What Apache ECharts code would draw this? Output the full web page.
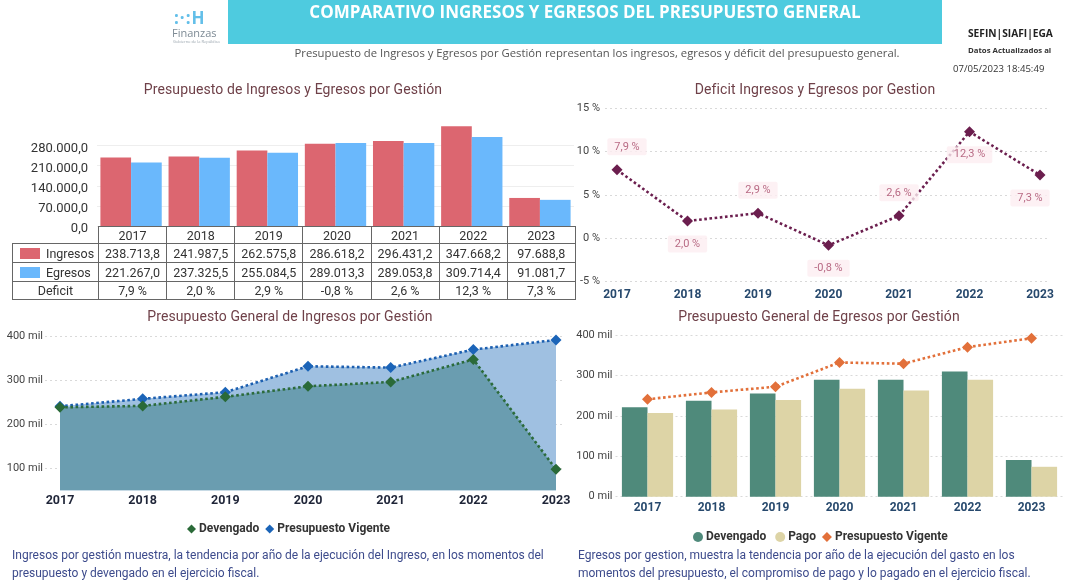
<!DOCTYPE html>
<html><head><meta charset="utf-8">
<script src="https://cdn.jsdelivr.net/npm/echarts@6/dist/echarts.min.js"></script>
<style>
html,body{margin:0;padding:0;background:#fff;width:1068px;height:588px;overflow:hidden;font-family:Roboto,'Open Sans',sans-serif;}
#chart{position:absolute;left:0;top:0;width:1068px;height:588px;}
.abs{position:absolute;white-space:nowrap;}
.ttl{position:absolute;white-space:nowrap;transform:translateX(-50%);font:14px Roboto,sans-serif;color:#6f4149;letter-spacing:0.1px;}
#tbl{position:absolute;left:12px;top:226px;border-collapse:collapse;table-layout:fixed;font:12.5px Roboto,sans-serif;color:#333;}
#tbl td{border:1px solid #666;text-align:center;padding:0;white-space:nowrap;}
#tbl td.blank{border:none;}
.sw{display:inline-block;width:20px;height:11px;vertical-align:-1px;margin-right:6px;}
.foot{position:absolute;font:12px Roboto,sans-serif;color:#3d4b8c;line-height:18px;white-space:nowrap;}
</style></head><body>
<div id="chart"></div>

<!-- header -->
<div class="abs" style="left:174px;top:6px;font:bold 17px 'Open Sans',sans-serif;color:#63bfe9;letter-spacing:1px;">:·:H</div>
<div class="abs" style="left:172px;top:25px;font:11px 'Open Sans',sans-serif;color:#7e8b95;">Finanzas</div>
<div class="abs" style="left:173px;top:39px;font:4px 'Open Sans',sans-serif;color:#9aa5ae;">Gobierno de la República</div>
<div class="abs" style="left:228px;top:0;width:714px;height:44px;background:#4ecbdf;"></div>
<div class="abs" style="left:228px;top:0;width:714px;height:37px;line-height:37px;text-align:center;color:#fff;font:bold 17px 'Open Sans',sans-serif;">COMPARATIVO INGRESOS Y EGRESOS DEL PRESUPUESTO GENERAL</div>
<div class="abs" style="left:597px;top:45px;transform:translateX(-50%);font:11.3px 'Open Sans',sans-serif;color:#555;">Presupuesto de Ingresos y Egresos por Gestión representan los ingresos, egresos y déficit del presupuesto general.</div>
<div class="abs" style="left:968px;top:26px;font:bold 10.2px 'Open Sans',sans-serif;color:#222;">SEFIN|SIAFI|EGA</div>
<div class="abs" style="left:968px;top:45px;font:bold 7.8px 'Open Sans',sans-serif;color:#333;">Datos Actualizados al</div>
<div class="abs" style="left:953px;top:62px;font:9.6px 'Open Sans',sans-serif;color:#333;">07/05/2023 18:45:49</div>

<!-- chart titles -->
<div class="ttl" style="left:293px;top:81px;">Presupuesto de Ingresos y Egresos por Gestión</div>
<div class="ttl" style="left:815px;top:81px;">Deficit Ingresos y Egresos por Gestion</div>
<div class="ttl" style="left:290px;top:308px;">Presupuesto General de Ingresos por Gestión</div>
<div class="ttl" style="left:819px;top:308px;">Presupuesto General de Egresos por Gestión</div>

<table id="tbl"></table>

<div class="foot" style="left:12px;top:546px;">Ingresos por gestión muestra, la tendencia por año de la ejecución del Ingreso, en los momentos del<br>presupuesto y devengado en el ejercicio fiscal.</div>
<div class="foot" style="left:578px;top:546px;">Egresos por gestion, muestra la tendencia por año de la ejecución del gasto en los<br>momentos del presupuesto, el compromiso de pago y lo pagado en el ejercicio fiscal.</div>

<script>
// ---------- data ----------
const years = ['2017','2018','2019','2020','2021','2022','2023'];
const ingresos = [238713.8, 241987.5, 262575.8, 286618.2, 296431.2, 347668.2, 97688.8];
const egresos  = [221267.0, 237325.5, 255084.5, 289013.3, 289053.8, 309714.4, 91081.7];
const deficit  = [7.9, 2.0, 2.9, -0.8, 2.6, 12.3, 7.3];
const ingDevengado = [238713.8, 241987.5, 262575.8, 286618.2, 296431.2, 347668.2, 97688.8];
const ingVigente   = [241000, 258000, 273000, 332000, 329000, 370000, 392000];
const egrDevengado = [221267.0, 237325.5, 255084.5, 289013.3, 289053.8, 309714.4, 91081.7];
const egrPago      = [207000, 216000, 239000, 267000, 263000, 289000, 74000];
const egrVigente   = [241000, 258000, 272000, 332000, 329000, 370000, 392000];
const ticks1 = [0, 70000, 140000, 210000, 280000];
const ticksPct = [-5, 0, 5, 10, 15];
const ticksMil3 = [100000, 200000, 300000, 400000];
const ticksMil4 = [0, 100000, 200000, 300000, 400000];

// ---------- helpers ----------
function fmtNum(v){
  const s = Math.abs(v).toFixed(1); let [i,d] = s.split('.');
  i = i.replace(/\B(?=(\d{3})+(?!\d))/g,'.');
  return (v<0?'-':'') + i + ',' + d;
}
function fmtPct(v){ return v.toFixed(1).replace('.',',') + ' %'; }

// ---------- table ----------
(function(){
  const t = document.getElementById('tbl');
  const colW = 68.14;
  let html = '<colgroup><col style="width:86px">' + years.map(()=>'<col style="width:'+colW+'px">').join('') + '</colgroup>';
  html += '<tr style="height:17px"><td class="blank"></td>' + years.map(y=>'<td>'+y+'</td>').join('') + '</tr>';
  html += '<tr style="height:19px"><td style="text-align:left;padding-left:7px"><span class="sw" style="background:#dc6670"></span>Ingresos</td>' + ingresos.map(v=>'<td>'+fmtNum(v)+'</td>').join('') + '</tr>';
  html += '<tr style="height:19px"><td style="text-align:left;padding-left:7px"><span class="sw" style="background:#6ab8fc"></span>Egresos</td>' + egresos.map(v=>'<td>'+fmtNum(v)+'</td>').join('') + '</tr>';
  html += '<tr style="height:18px"><td>Deficit</td>' + deficit.map(v=>'<td>'+fmtPct(v)+'</td>').join('') + '</tr>';
  t.innerHTML = html;
})();

// ---------- chart ----------
const chart = echarts.init(document.getElementById('chart'), null, {renderer:'canvas'});
const gridLineDotted = {show:true, lineStyle:{color:'#d9d9d9', type:[2,3], width:1}};
const yLabelSmall = {color:'#444', fontSize:11, fontFamily:'Roboto'};
const xLabelBold = {color:'#27496d', fontSize:12, fontWeight:'bold', fontFamily:'Roboto', margin:6};
const labelPos = ['top','bottom','top','bottom','top','bottom','bottom'];
const labelOffset = [[10,0],[0,0],[0,0],[0,0],[0,0],[0,0],[-10,0]];

const hiddenX = (gi)=>({type:'value', gridIndex:gi, show:false, min:0, max:1});

const option = {
  animation:false,
  grid:[
    {left:97, top:145.6, width:477, height:80.4},      // 0 chart1 gridlines
    {left:97, top:125.5, width:477, height:100.5},     // 1 chart1 main
    {left:605, top:108.3, width:442, height:173.4},    // 2 chart2 bg
    {left:617, top:108.3, width:423, height:173.4},    // 3 chart2 main
    {left:45, top:336.7, width:520, height:131.6},     // 4 chart3 bg
    {left:60, top:332, width:496, height:158.3},       // 5 chart3 main
    {left:615.5, top:335, width:448, height:161.7},    // 6 chart4
    {left:97, top:148.6, width:477, height:80.4}       // 7 chart1 tick labels
  ],
  xAxis:[
    hiddenX(0),
    {type:'category', gridIndex:1, data:years, show:false},
    hiddenX(2),
    {type:'category', gridIndex:3, data:years, boundaryGap:false, axisLine:{show:false}, axisTick:{show:false}, axisLabel:Object.assign({}, xLabelBold, {margin:7})},
    hiddenX(4),
    {type:'category', gridIndex:5, data:years, boundaryGap:false, axisLine:{show:false}, axisTick:{show:false}, axisLabel:Object.assign({}, xLabelBold, {color:'#1f2538', fontSize:12.5, margin:4})},
    {type:'category', gridIndex:6, data:years, axisLine:{show:false}, axisTick:{show:false}, axisLabel:Object.assign({}, xLabelBold, {margin:5})},
    hiddenX(7)
  ],
  yAxis:[
    {type:'value', gridIndex:0, min:ticks1[0], max:ticks1[ticks1.length-1], interval:70000,
      axisLine:{show:false}, axisTick:{show:false}, axisLabel:{show:false},
      splitLine:{show:true, lineStyle:{color:'#eeeeee'}}},
    {type:'value', gridIndex:1, min:0, max:350000, show:false},
    {type:'value', gridIndex:2, min:ticksPct[0], max:ticksPct[ticksPct.length-1], interval:5,
      axisLine:{show:false}, axisTick:{show:false}, splitLine:gridLineDotted,
      axisLabel:Object.assign({formatter:v=>v+' %', margin:5}, yLabelSmall)},
    {type:'value', gridIndex:3, min:-5, max:15, show:false},
    {type:'value', gridIndex:4, min:ticksMil3[0], max:ticksMil3[ticksMil3.length-1], interval:100000,
      axisLine:{show:false}, axisTick:{show:false}, splitLine:gridLineDotted,
      axisLabel:Object.assign({formatter:v=>(v/1000)+' mil', margin:2}, yLabelSmall)},
    {type:'value', gridIndex:5, min:50000, max:410000, show:false},
    {type:'value', gridIndex:6, min:ticksMil4[0], max:ticksMil4[ticksMil4.length-1], interval:100000,
      axisLine:{show:false}, axisTick:{show:false}, splitLine:gridLineDotted,
      axisLabel:Object.assign({formatter:v=>(v/1000)+' mil', margin:3}, yLabelSmall)},
    {type:'value', gridIndex:7, min:ticks1[0], max:ticks1[ticks1.length-1], interval:70000,
      axisLine:{show:false}, axisTick:{show:false}, splitLine:{show:false},
      axisLabel:{formatter:v=>fmtNum(v), color:'#333', fontSize:13, fontFamily:'Roboto', margin:9}}
  ],
  legend:[
    {data:[{name:'Devengado', icon:'diamond'},{name:'Presupuesto Vigente', icon:'diamond'}],
     left:182, top:518, itemWidth:9, itemHeight:9, itemGap:6,
     textStyle:{fontWeight:'bold', fontSize:12, color:'#333', fontFamily:'Roboto', padding:[0,0,0,-2]}},
    {data:[{name:'Devengado ', icon:'circle'},{name:'Pago', icon:'circle'},{name:'Presupuesto Vigente ', icon:'diamond'}],
     left:688, top:526, itemWidth:10, itemHeight:10, itemGap:6,
     textStyle:{fontWeight:'bold', fontSize:12, color:'#333', fontFamily:'Roboto', padding:[0,0,0,-2]}}
  ],
  series:[
    // chart 1
    {type:'bar', name:'Ingresos', xAxisIndex:1, yAxisIndex:1, data:ingresos, barGap:'0%', barCategoryGap:'10%', itemStyle:{color:'#dc6670'}},
    {type:'bar', name:'Egresos', xAxisIndex:1, yAxisIndex:1, data:egresos, barGap:'0%', barCategoryGap:'10%', itemStyle:{color:'#6ab8fc'}},
    // chart 2
    {type:'line', name:'Deficit', xAxisIndex:3, yAxisIndex:3, symbol:'diamond', symbolSize:11,
      lineStyle:{color:'#6b1e4e', width:2.6, type:[2.6,2.6]}, itemStyle:{color:'#6b1e4e'},
      data:deficit.map((v,i)=>({value:v, label:{position:labelPos[i], offset:labelOffset[i]}})),
      label:{show:true, formatter:p=>fmtPct(p.value), color:'#b86a84', fontSize:11, fontFamily:'Roboto',
        backgroundColor:'rgba(252,238,241,0.8)', padding:[3,7], borderRadius:2, distance:9}},
    // chart 3
    {type:'line', name:'Devengado', xAxisIndex:5, yAxisIndex:5, data:ingDevengado, z:4, symbol:'diamond', symbolSize:11,
      lineStyle:{color:'#2c6b3b', width:2.6, type:[2.6,2.6]}, itemStyle:{color:'#2a6a38'},
      areaStyle:{color:'#6a9db0', opacity:1, origin:'start'}},
    {type:'line', name:'Presupuesto Vigente', xAxisIndex:5, yAxisIndex:5, data:ingVigente, z:3, symbol:'diamond', symbolSize:11,
      lineStyle:{color:'#1c5fb0', width:2.6, type:[2.6,2.6]}, itemStyle:{color:'#1b64b8'},
      areaStyle:{color:'#9fc0e1', opacity:1, origin:'start'}},
    // chart 4
    {type:'bar', name:'Devengado ', xAxisIndex:6, yAxisIndex:6, data:egrDevengado, barGap:'0%', barCategoryGap:'20%', itemStyle:{color:'#4f8a7b'}},
    {type:'bar', name:'Pago', xAxisIndex:6, yAxisIndex:6, data:egrPago, barGap:'0%', barCategoryGap:'20%', itemStyle:{color:'#ddd4a6'}},
    {type:'line', name:'Presupuesto Vigente ', xAxisIndex:6, yAxisIndex:6, data:egrVigente, symbol:'diamond', symbolSize:11,
      lineStyle:{color:'#e2703a', width:2.6, type:[2.6,2.6]}, itemStyle:{color:'#e2703a'}}
  ]
};
chart.setOption(option);
</script>
</body></html>
